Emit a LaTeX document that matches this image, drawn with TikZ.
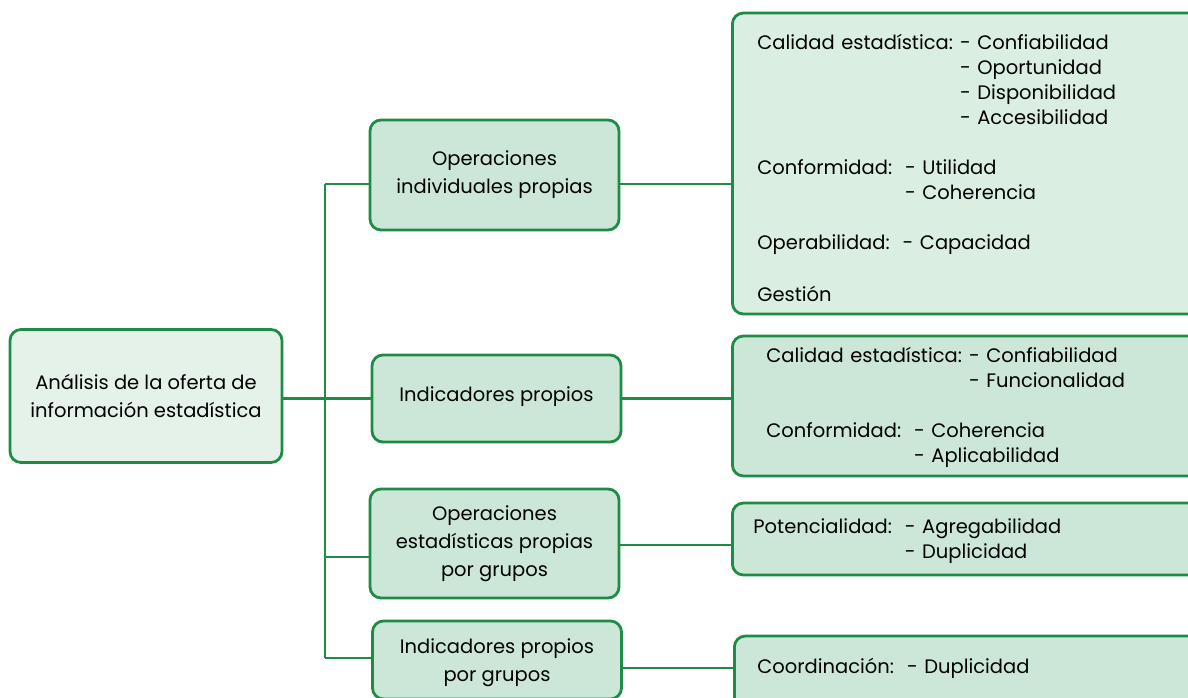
\documentclass[tikz,border=0pt]{standalone}
\usepackage{fontspec}
\setmainfont{Poppins}
\usetikzlibrary{positioning}
\definecolor{verde}{HTML}{1E8C45}
\definecolor{raizfondo}{HTML}{E4F2E9}
\definecolor{mediofondo}{HTML}{CCE7D7}
\definecolor{detclaro}{HTML}{DAEEE2}
% baja el texto sin cambiar el tamano de la caja
\newcommand{\bajar}[2]{\raisebox{-#1}[\height][\depth]{#2}}
\tikzset{
  every path/.style={verde, line width=2.8pt},
  caja/.style={draw=verde, rounded corners=11pt, line width=2.8pt, text=black,
    font=\fontsize{19.5}{28}\selectfont, align=center, inner sep=0pt},
  raiz/.style={caja, fill=raizfondo, minimum width=272pt, minimum height=133pt},
  medio/.style={caja, fill=mediofondo, minimum width=249pt},
  detalle/.style={caja, fill=mediofondo, anchor=west, minimum width=480pt,
    text width=430pt, align=left, font=\fontsize{19.5}{25}\selectfont}
}
\begin{document}
\begin{tikzpicture}[x=1pt,y=-1pt]
  \useasboundingbox[fill=white] (0,0) rectangle (1188,698);
  \node[raiz] (analisis) at (146,396) {An\'alisis de la oferta de\\informaci\'on estad\'istica};
  \node[medio, minimum height=110pt] (opind) at (494.5,175) {Operaciones\\individuales propias};
  \node[medio, minimum height=87pt]  (indpro) at (496.5,398.5) {\bajar{-2pt}{Indicadores propios}};
  \node[medio, minimum height=109pt] (opgru) at (494.5,543.5) {Operaciones\\estad\'isticas propias\\por grupos};
  \node[medio, minimum height=78pt]  (indgru) at (497,660) {\bajar{3pt}{Indicadores propios}\\\bajar{3pt}{por grupos}};
  \node[detalle, fill=detclaro, minimum height=301pt] (det1) at (731,163.5) {%
    \bajar{7pt}{\begin{tabular}{@{}l@{\hspace{7pt}}l@{}}
      Calidad estad\'istica: & - Confiabilidad\\
      & - Oportunidad\\
      & - Disponibilidad\\
      & - Accesibilidad\\[25pt]
      \multicolumn{2}{@{}l@{}}{Conformidad:\ \ - Utilidad}\\
      \multicolumn{2}{@{}l@{}}{\phantom{Conformidad:\ \ }- Coherencia}\\[25pt]
      \multicolumn{2}{@{}l@{}}{Operabilidad:\ \ - Capacidad}\\[27pt]
      Gesti\'on &
    \end{tabular}}};
  \node[detalle, minimum height=140pt, text width=424pt] (det2) at (731,406) {%
    \hspace*{6pt}\bajar{1pt}{\begin{tabular}{@{}l@{\hspace{7pt}}l@{}}
      Calidad estad\'istica: & - Confiabilidad\\
      & - Funcionalidad\\[25pt]
      \multicolumn{2}{@{}l@{}}{Conformidad:\ \ - Coherencia}\\
      \multicolumn{2}{@{}l@{}}{\phantom{Conformidad:\ \ }- Aplicabilidad}
    \end{tabular}}};
  \node[detalle, minimum height=72pt] (det3) at (731,539) {%
    \hspace*{-4pt}\bajar{2pt}{\begin{tabular}{@{}l@{\ \ }l@{}}
      Potencialidad: & - Agregabilidad\\
      & - Duplicidad
    \end{tabular}}};
  \node[detalle, minimum height=76pt] (det4) at (733,674) {%
    \hspace*{-2pt}\bajar{-6pt}{Coordinaci\'on:\ \ - Duplicidad}};
  % tronco
  \coordinate (j1) at (325,184);
  \coordinate (j3) at (325,557);
  \coordinate (j4) at (325,658);
  \draw (j1) -- (j4);
  \draw (analisis.east |- indpro.west) -- (indpro.west);
  \draw (j1) -- (j1 -| opind.west);
  \draw (j3) -- (j3 -| opgru.west);
  \draw (j4) -- (j4 -| indgru.west);
  % ramas a la derecha
  \draw (opind.east |- j1) -- (det1.west |- j1);
  \draw (indpro.east) -- (indpro.east -| det2.west);
  \draw (opgru.east |- 0,545) -- (det3.west |- 0,545);
  \draw (indgru.east |- 0,668) -- (det4.west |- 0,668);
\end{tikzpicture}
\end{document}
